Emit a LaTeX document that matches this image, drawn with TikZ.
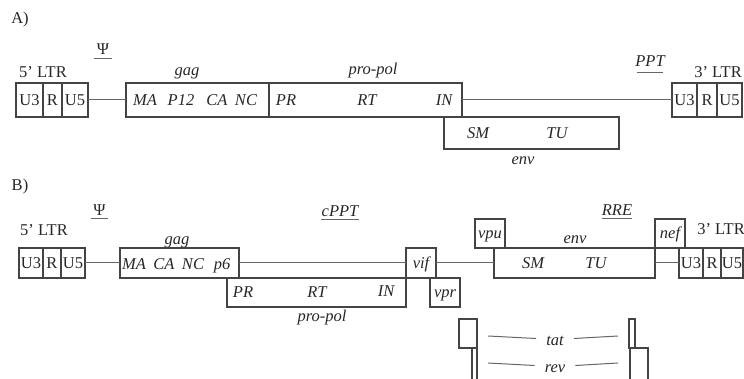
\documentclass[tikz,border=0pt]{standalone}
\usepackage{fontspec}
\setmainfont{Liberation Serif}
\usetikzlibrary{positioning}
\definecolor{boxgray}{HTML}{444444}
\definecolor{linegray}{HTML}{666666}
\definecolor{textgray}{HTML}{262626}

\begin{document}
\begin{tikzpicture}[x=1pt, y=-1pt,
    every node/.style={font=\fontsize{16.5}{19}\selectfont, text=textgray},
    gene/.style={draw=boxgray, line width=1.7pt, inner sep=0pt, outer sep=0pt, anchor=north west, text height=11pt, text depth=0pt},
    igene/.style={gene, font=\fontsize{16.5}{19}\selectfont\itshape},
    tag/.style={anchor=base, inner sep=0pt},
    itag/.style={tag, font=\fontsize{16.5}{19}\selectfont\itshape},
    splice/.style={itag, inner xsep=10pt, text height=11pt, text depth=0pt},
    link/.style={draw=linegray, line width=1pt}
]
\useasboundingbox (0,0) rectangle (744,379);

% A) simple retrovirus
\node[tag] (titleA) at (20,24) {A)};
\node[tag] (ltr5A) at (43,78) {5' LTR};
\node[tag] (psiA) at (103,55) {Ψ};
\node[itag] (gagA-lab) at (187,76) {gag};
\node[itag] (propolA-lab) at (373,75) {pro-pol};
\node[itag] (pptA) at (650,67) {PPT};
\node[tag] (ltr3A) at (718,78) {3' LTR};

\node[gene, minimum width=27pt, minimum height=34pt] (u3A) at (16,83) {U3};
\node[gene, minimum width=19pt, minimum height=34pt, right=0pt of u3A] (rA) {R};
\node[gene, minimum width=26pt, minimum height=34pt, right=0pt of rA] (u5A) {U5};
\node[gene, minimum width=143pt, minimum height=34pt] (gagA) at (126,83) {};
\node[gene, minimum width=193pt, minimum height=34pt, right=0pt of gagA] (propolA) {};
\node[gene, minimum width=175pt, minimum height=32pt] (envA) at (444,117) {};
\node[gene, minimum width=25pt, minimum height=34pt] (u3A2) at (672,83) {U3};
\node[gene, minimum width=20pt, minimum height=34pt, right=0pt of u3A2] (rA2) {R};
\node[gene, minimum width=25pt, minimum height=34pt, right=0pt of rA2] (u5A2) {U5};

\node[itag] (maA) at (145,106) {MA};
\node[itag] (p12A) at (181,106) {P12};
\node[itag] (caA) at (217,106) {CA};
\node[itag] (ncA) at (246,106) {NC};
\node[itag] (prA) at (286,106) {PR};
\node[itag] (rtA) at (367,106) {RT};
\node[itag] (inA) at (444,106) {IN};
\node[itag] (smA) at (478,139) {SM};
\node[itag] (tuA) at (557,139) {TU};
\node[itag] (envA-lab) at (523,165) {env};

\draw[link] (u5A) -- (gagA);
\draw[link] (propolA) -- (u3A2);
\draw[link, shorten <=-3pt, shorten >=-3pt] ([yshift=-4pt]psiA.base west) -- ([yshift=-4pt]psiA.base east);
\draw[link, shorten <=2pt, shorten >=2pt] ([yshift=-6pt]pptA.base west) -- ([yshift=-6pt]pptA.base east);

% B) lentivirus
\node[tag] (titleB) at (20,191) {B)};
\node[tag] (ltr5B) at (44,236) {5' LTR};
\node[tag] (psiB) at (99.5,216) {Ψ};
\node[itag] (gagB-lab) at (177,245) {gag};
\node[itag] (cpptB) at (340,217) {cPPT};
\node[itag] (rreB) at (617,216) {RRE};
\node[itag] (envB-lab) at (575,244) {env};
\node[tag] (ltr3B) at (721,235) {3' LTR};
\node[itag] (propolB-lab) at (322,321) {pro-pol};

\node[gene, minimum width=24pt, minimum height=30pt] (u3B) at (19,248) {U3};
\node[gene, minimum width=18pt, minimum height=30pt, right=0pt of u3B] (rB) {R};
\node[gene, minimum width=24pt, minimum height=30pt, right=0pt of rB] (u5B) {U5};
\node[gene, minimum width=119pt, minimum height=30pt] (gagB) at (120,248) {};
\node[gene, minimum width=179pt, minimum height=29pt] (propolB) at (227,278) {};
\node[igene, minimum width=30pt, minimum height=30pt] (vifB) at (406,248) {vif};
\node[igene, minimum width=30pt, minimum height=29pt] (vprB) at (430,278) {vpr};
\node[igene, minimum width=30pt, minimum height=29pt] (vpuB) at (475,219) {vpu};
\node[gene, minimum width=161pt, minimum height=30pt] (envB) at (494,248) {};
\node[igene, minimum width=30pt, minimum height=29pt] (nefB) at (655,219) {nef};
\node[gene, minimum width=24pt, minimum height=30pt] (u3B2) at (679,248) {U3};
\node[gene, minimum width=18pt, minimum height=30pt, right=0pt of u3B2] (rB2) {R};
\node[gene, minimum width=22pt, minimum height=30pt, right=0pt of rB2] (u5B2) {U5};

\node[itag] (maB) at (134,270) {MA};
\node[itag] (caB) at (164,270) {CA};
\node[itag] (ncB) at (193,270) {NC};
\node[itag] (p6B) at (222,270) {p6};
\node[itag] (prB) at (243,298) {PR};
\node[itag] (rtB) at (317,298) {RT};
\node[itag] (inB) at (386,297) {IN};
\node[itag] (smB) at (533,269) {SM};
\node[itag] (tuB) at (596,269) {TU};

\draw[link] (u5B) -- (gagB);
\draw[link] (gagB) -- (vifB);
\draw[link] (vifB) -- (envB);
\draw[link] (envB) -- (u3B2);
\draw[link, shorten <=-2pt, shorten >=-2pt] ([yshift=-3pt]psiB.base west) -- ([yshift=-3pt]psiB.base east);
\draw[link] ([yshift=-3pt]cpptB.base west) -- ([yshift=-3pt]cpptB.base east);
\draw[link] ([yshift=-3pt]rreB.base west) -- ([yshift=-3pt]rreB.base east);

% spliced tat / rev exons
\node[gene, minimum width=18pt, minimum height=29pt] (tatL) at (459,319) {};
\node[gene, minimum width=5pt, minimum height=33pt] (revL) at (472,348) {};
\node[gene, minimum width=6pt, minimum height=29pt] (tatR) at (629,319) {};
\node[gene, minimum width=18pt, minimum height=33pt] (revR) at (630,348) {};
\node[splice] (tat) at (555,345) {tat};
\node[splice] (rev) at (555,372) {rev};
\coordinate (tat1) at (488,336);
\coordinate (tat2) at (618,336);
\coordinate (rev1) at (488,363);
\coordinate (rev2) at (618,363);
\draw[link] (tat1) -- ([yshift=1pt]tat.west);
\draw[link] ([yshift=1pt]tat.east) -- (tat2);
\draw[link] (rev1) -- ([yshift=1pt]rev.west);
\draw[link] ([yshift=1pt]rev.east) -- (rev2);
\end{tikzpicture}
\end{document}
